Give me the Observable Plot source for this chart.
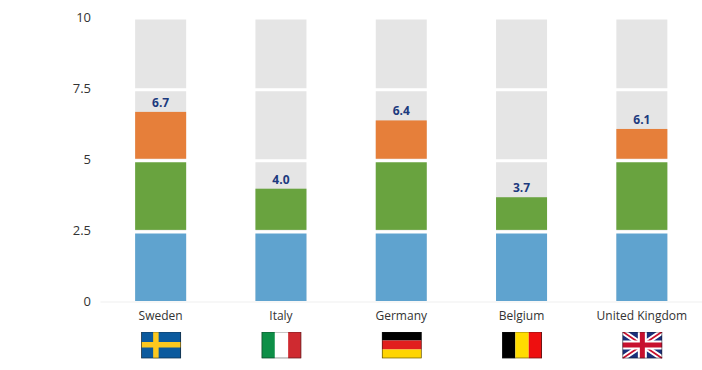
<!DOCTYPE html>
<html><head><meta charset="utf-8">
<script src="https://cdn.jsdelivr.net/npm/d3@7"></script>
<script src="https://cdn.jsdelivr.net/npm/@observablehq/plot@0.6"></script>
<style>html,body{margin:0;padding:0;background:#fff}svg{display:block}</style>
</head><body><div id="chart"></div>
<script>
const countries = ["Sweden","Italy","Germany","Belgium","United Kingdom"];
const totals = [6.7,4.0,6.4,3.7,6.1];
const blue = [2.5,2.5,2.5,2.5,2.5];
const green = [2.5,1.5,2.5,1.2,2.5];
const orange = [1.7,0,1.4,0,1.1];
const yTicks = [0,2.5,5,7.5,10];
const colors = {blue:"#5fa3cf",green:"#69a33f",orange:"#e67f3a",gray:"#e5e5e5"};

const border = `<rect x=".4" y=".4" width="39.2" height="26.2" fill="none" stroke="#1a1a1a" stroke-opacity=".8" stroke-width=".8"/>`;
const svgUri = s => "data:image/svg+xml," + encodeURIComponent(`<svg xmlns="http://www.w3.org/2000/svg" viewBox="0 0 40 27" preserveAspectRatio="none">${s}${border}</svg>`);
const flagArt = [
  `<rect width="40" height="27" fill="#0b5a9e"/><rect x="12" width="5.5" height="27" fill="#fcc81e"/><rect y="10.5" width="40" height="5.5" fill="#fcc81e"/>`,
  `<rect width="40" height="27" fill="#fff"/><rect width="13.3" height="27" fill="#0d8f47"/><rect x="26.7" width="13.3" height="27" fill="#cf2a30"/>`,
  `<rect width="40" height="9" fill="#000"/><rect y="9" width="40" height="9" fill="#e11e1e"/><rect y="18" width="40" height="9" fill="#ffd500"/>`,
  `<rect width="13.3" height="27" fill="#000"/><rect x="13.3" width="13.4" height="27" fill="#ffdc00"/><rect x="26.7" width="13.3" height="27" fill="#ee0f0f"/>`,
  `<rect width="40" height="27" fill="#1b2f7a"/><path d="M0 0L40 27M40 0L0 27" stroke="#fff" stroke-width="5.5"/><path d="M0 0L40 27M40 0L0 27" stroke="#c8102e" stroke-width="1.8"/><path d="M20 0V27M0 13.5H40" stroke="#fff" stroke-width="9"/><path d="M20 0V27M0 13.5H40" stroke="#c8102e" stroke-width="5"/>`
];

const rows = countries.map((country,i)=>({country,total:totals[i],flag:svgUri(flagArt[i])}));
const seg = (values,bases,fill) => countries.map((country,i)=>({country,y1:bases[i],y2:bases[i]+values[i],fill})).filter(d=>d.y2>d.y1);
const zero = countries.map(()=>0);
const greenBase = blue;
const orangeBase = blue.map((b,i)=>b+green[i]);
const segs = [...seg(blue,zero,colors.blue),...seg(green,greenBase,colors.green),...seg(orange,orangeBase,colors.orange)];

const chart = Plot.plot({
  width:702,height:370,marginTop:18,marginBottom:67.5,marginLeft:100.5,marginRight:0,
  style:{fontFamily:"'Open Sans',sans-serif",background:"#fff",overflow:"visible"},
  x:{domain:countries,paddingInner:0.576,paddingOuter:0.288,round:false,label:null},
  y:{domain:[0,10],label:null},
  marks:[
    Plot.rectY(countries,{x:d=>d,y1:0,y2:10,fill:colors.gray,insetTop:1.5,insetBottom:1.5}),
    Plot.rectY(segs,{x:"country",y1:"y1",y2:"y2",fill:"fill",insetBottom:1.5}),
    Plot.ruleY([2.5,5,7.5],{stroke:"#fff",strokeWidth:3}),
    Plot.ruleY([0],{stroke:"#efefef",strokeWidth:1,dy:-1}),
    Plot.text(rows,{x:"country",y:"total",text:d=>d.total.toFixed(1),dy:-9.5,dx:-0.5,fill:"#1c3a7e",fontWeight:700,fontSize:12}),
    Plot.axisY({ticks:yTicks,tickSize:0,tickPadding:0,dx:-10,dy:-1,tickFormat:d=>String(d),fontSize:13,color:"#333",label:null}),
    Plot.axisX({tickSize:0,tickPadding:8,fontSize:12,color:"#333",label:null,dx:-0.5}),
    Plot.image(rows,{x:"country",y:0,src:"flag",width:40,height:27,dy:42})
  ]
});
document.getElementById("chart").append(chart);
</script></body></html>
